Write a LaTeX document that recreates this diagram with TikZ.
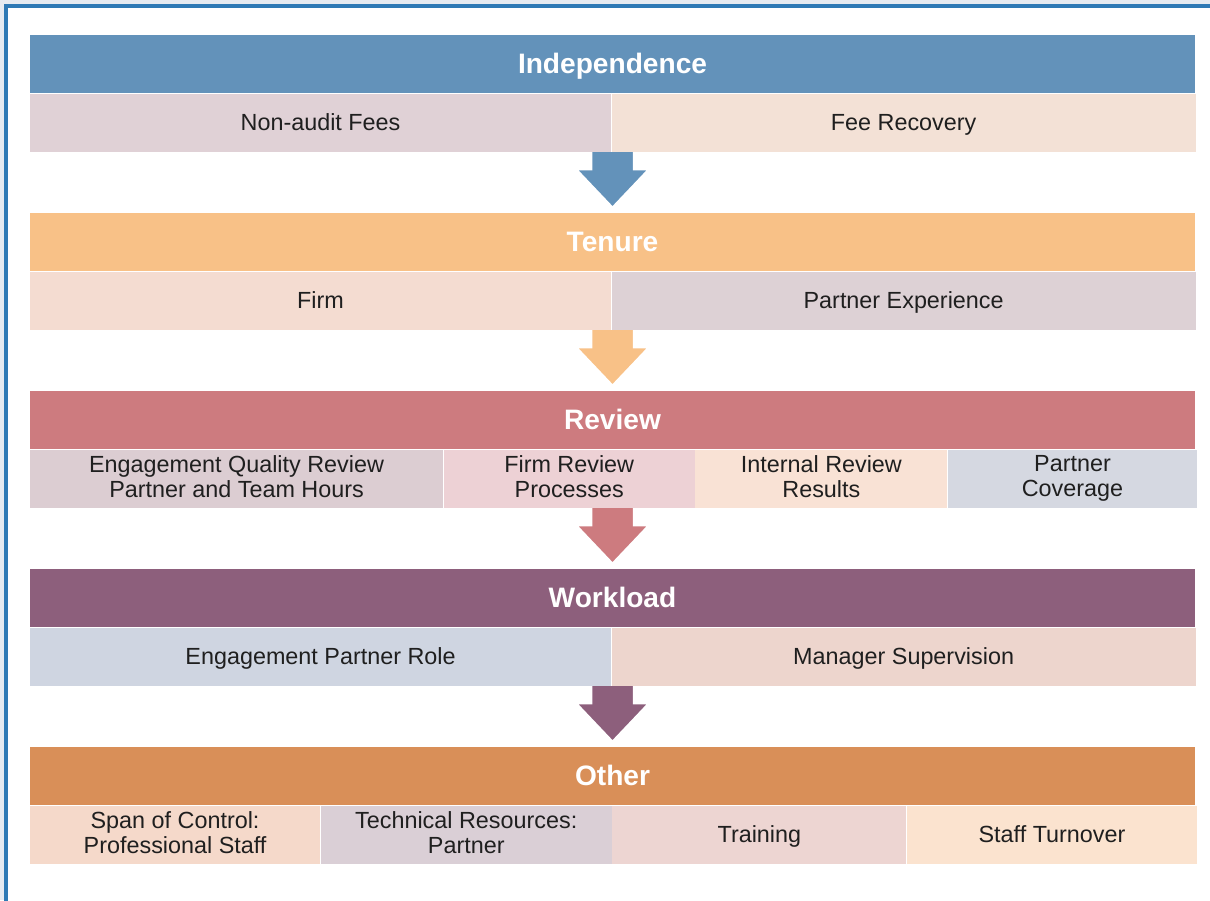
\documentclass[tikz,border=0pt]{standalone}
\usepackage{fontspec}
\setmainfont{Liberation Sans}
\usetikzlibrary{calc}

\definecolor{cfond}{HTML}{E6EBF1}
\definecolor{cbord}{HTML}{2F7AB5}
\definecolor{cind}{HTML}{6392BA}
\definecolor{cten}{HTML}{F8C187}
\definecolor{crev}{HTML}{CD7B7F}
\definecolor{cwor}{HTML}{8D5F7C}
\definecolor{coth}{HTML}{D98F58}
\definecolor{ci1}{HTML}{E0D1D6}
\definecolor{ci2}{HTML}{F3E1D6}
\definecolor{ct1}{HTML}{F4DCD1}
\definecolor{ct2}{HTML}{DDD1D5}
\definecolor{cr1}{HTML}{DCCDD2}
\definecolor{cr2}{HTML}{EDD1D5}
\definecolor{cr3}{HTML}{F9E2D5}
\definecolor{cr4}{HTML}{D5D8E1}
\definecolor{cw1}{HTML}{CFD5E1}
\definecolor{cw2}{HTML}{EDD5CD}
\definecolor{co1}{HTML}{F5D9CA}
\definecolor{co2}{HTML}{DACFD6}
\definecolor{co3}{HTML}{EDD5D2}
\definecolor{co4}{HTML}{FBE3CF}

\newcommand{\calecase}{\rule[-2.6pt]{0pt}{14.2pt}}
\newcommand{\caletete}{\rule[-4pt]{0pt}{19pt}}

\begin{document}
\begin{tikzpicture}[x=0.02cm, y=-0.02cm,
	entete/.style={text=white, inner sep=0, minimum width=23.3cm, minimum height=1.16cm,
		font=\bfseries\fontsize{16}{19}\selectfont, execute at begin node=\caletete},
	case/.style={anchor=north west, inner sep=0, minimum height=1.16cm, align=center,
		text=black!88, font=\fontsize{13.3}{14.2}\selectfont,
		execute at begin node=\calecase, execute at end node=\calecase},
	fleche/.style={draw=white, line width=2pt, line join=miter,
		to path={($(\tikztostart)+(-22,0)$) -- ($(\tikztotarget)+(-22,-44)$)
			-- ($(\tikztotarget)+(-38,-44)$) -- ($(\tikztotarget)+(0,-4)$)
			-- ($(\tikztotarget)+(38,-44)$) -- ($(\tikztotarget)+(22,-44)$)
			-- ($(\tikztostart)+(22,0)$)}}]
	\useasboundingbox (0,0) rectangle (1210,900);
	\fill[cfond] (0,0) rectangle (1210,900);
	\draw[cbord, line width=2pt, fill=white] (6,6) rectangle (1216,906);
	
	% independence
	\node[entete, fill=cind] (ind) at (612.5,64) {Independence};
	\node[case, fill=ci1, minimum width=11.62cm] (ind1) at (ind.south west) {Non-audit Fees};
	\node[case, fill=ci2, minimum width=11.68cm] (ind2) at (ind1.north east) {Fee Recovery};
	
	% tenure
	\node[entete, fill=cten] (ten) at (612.5,242) {Tenure};
	\node[case, fill=ct1, minimum width=11.62cm] (ten1) at (ten.south west) {Firm};
	\node[case, fill=ct2, minimum width=11.68cm] (ten2) at (ten1.north east) {Partner Experience};
	
	% review
	\node[entete, fill=crev] (rev) at (612.5,420) {Review};
	\node[case, fill=cr1, minimum width=8.26cm] (rev1) at (rev.south west) {Engagement Quality Review\\Partner and Team Hours};
	\node[case, fill=cr2, minimum width=5.02cm] (rev2) at (rev1.north east) {Firm Review\\Processes};
	\node[case, fill=cr3, minimum width=5.04cm] (rev3) at (rev2.north east) {Internal Review\\Results};
	\node[case, fill=cr4, minimum width=4.98cm] (rev4) at (rev3.north east) {Partner\\Coverage};
	
	% workload
	\node[entete, fill=cwor] (wor) at (612.5,598) {Workload};
	\node[case, fill=cw1, minimum width=11.62cm] (wor1) at (wor.south west) {Engagement Partner Role};
	\node[case, fill=cw2, minimum width=11.68cm] (wor2) at (wor1.north east) {Manager Supervision};
	
	% other
	\node[entete, fill=coth] (oth) at (612.5,776) {Other};
	\node[case, fill=co1, minimum width=5.8cm] (oth1) at (oth.south west) {Span of Control:\\Professional Staff};
	\node[case, fill=co2, minimum width=5.82cm] (oth2) at (oth1.north east) {Technical Resources:\\Partner};
	\node[case, fill=co3, minimum width=5.88cm] (oth3) at (oth2.north east) {Training};
	\node[case, fill=co4, minimum width=5.8cm] (oth4) at (oth3.north east) {Staff Turnover};
	
	\draw[fleche, fill=cind] (ind.center |- ind1.south) to (ten.north);
	\draw[fleche, fill=cten] (ten.center |- ten1.south) to (rev.north);
	\draw[fleche, fill=crev] (rev.center |- rev1.south) to (wor.north);
	\draw[fleche, fill=cwor] (wor.center |- wor1.south) to (oth.north);
	
\end{tikzpicture}
\end{document}
